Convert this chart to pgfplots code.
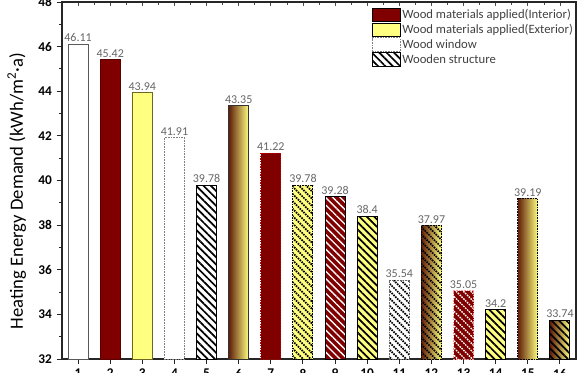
\documentclass[border=0pt]{standalone}
\usepackage{pgfplots}
\pgfplotsset{compat=1.18}
\usepackage{fontspec}
\setmainfont{Carlito}
\usetikzlibrary{patterns.meta}
\definecolor{wred}{RGB}{128,0,0}
\definecolor{wyel}{RGB}{255,255,128}
\definecolor{gbrown}{RGB}{95,30,10}
\definecolor{gmid}{RGB}{205,150,70}
\tikzset{
  hatchk/.style={postaction={pattern={Lines[angle=-45,distance=3.9pt,line width=1.3pt]},pattern color=black}},
  hatchw/.style={postaction={pattern={Lines[angle=-45,distance=3.9pt,line width=1.0pt]},pattern color=white}},
  grad/.style={left color=gbrown,middle color=gmid,right color=wyel},
  gradhatch/.style={preaction={left color=gbrown,middle color=gmid,right color=wyel},
     pattern={Lines[angle=-45,distance=3.9pt,line width=1.3pt]},pattern color=black},
  win/.style={dash pattern=on 1.2pt off 0.8pt},
}
\begin{document}
\begin{tikzpicture}
\begin{axis}[
  scale only axis, width=385.5pt, height=267.75pt,
  xmin=0.5, xmax=16.5, ymin=32, ymax=48,
  ybar, bar width=15pt, bar shift=0pt,
  xtick={1,...,16}, ytick={32,34,...,48}, minor y tick num=1,
  xtick pos=bottom, ytick pos=left, tick align=outside,
  major tick length=4pt, minor tick length=2.5pt,
  axis line style={line width=0.9pt, black!85},
  every tick/.style={black!85, line width=0.7pt},
  /pgf/number format/assume math mode=true,
  tick label style={font=\fontsize{10}{12}\selectfont\bfseries},
  ylabel={Heating Energy Demand (kWh/m\textsuperscript{2}·a)},
  ylabel style={font=\fontsize{14}{16}\selectfont, at={(axis description cs:-0.088,0.47)}, anchor=center},
  nodes near coords,
  every node near coord/.append style={font=\fontsize{9}{10}\selectfont, color=black!60, inner sep=1.5pt},
  legend image code/.code={\draw[#1] (0pt,-5.2pt) rectangle (21pt,5.2pt);},
  legend style={at={(rel axis cs:0.603,0.985)}, anchor=north west, draw=none, fill=none,
     font=\fontsize{9.5}{10}\selectfont, row sep=0.2pt, inner sep=0pt,
     nodes={inner sep=1pt, text=black!75}},
  legend cell align=left,
]
\addplot[forget plot, fill=white, draw=gray!70!black, line width=0.7pt] coordinates {(1,46.11)};
\addplot[forget plot, fill=wred, draw=wred!70!black] coordinates {(2,45.42)};
\addplot[forget plot, fill=wyel, draw=olive!70!black, line width=0.7pt] coordinates {(3,43.94)};
\addplot[forget plot, fill=white, draw=gray, win, line width=0.7pt] coordinates {(4,41.91)};
\addplot[forget plot, fill=white, draw=black, hatchk, line width=0.7pt] coordinates {(5,39.78)};
\addplot[forget plot, grad, draw=black!80, line width=0.7pt] coordinates {(6,43.35)};
\addplot[forget plot, fill=wred, draw=red!70!black, win, line width=0.7pt] coordinates {(7,41.22)};
\addplot[forget plot, fill=wyel, hatchk, draw=black, win, line width=0.7pt] coordinates {(8,39.78)};
\addplot[forget plot, fill=wred, hatchw, draw=black, line width=0.7pt] coordinates {(9,39.28)};
\addplot[forget plot, fill=wyel, hatchk, draw=black, line width=0.7pt] coordinates {(10,38.4)};
\addplot[forget plot, fill=white, hatchk, draw=gray!80!black, win, line width=0.7pt] coordinates {(11,35.54)};
\addplot[forget plot, gradhatch, draw=black, win, line width=0.7pt] coordinates {(12,37.97)};
\addplot[forget plot, fill=wred, hatchw, draw=red!40, win, line width=0.7pt] coordinates {(13,35.05)};
\addplot[forget plot, fill=wyel, hatchk, draw=black, line width=0.7pt] coordinates {(14,34.2)};
\addplot[forget plot, grad, draw=black, win, line width=0.7pt] coordinates {(15,39.19)};
\addplot[forget plot, gradhatch, draw=black, line width=0.7pt] coordinates {(16,33.74)};
\addlegendimage{fill=wred, draw=black, line width=0.6pt}
\addlegendentry{Wood materials applied(Interior)}
\addlegendimage{fill=wyel, draw=black, line width=0.6pt}
\addlegendentry{Wood materials applied(Exterior)}
\addlegendimage{fill=white, draw=gray, win, line width=0.6pt}
\addlegendentry{Wood window}
\addlegendimage{fill=white, draw=black, hatchk, line width=0.6pt}
\addlegendentry{Wooden structure}
\end{axis}
\begin{axis}[
  scale only axis, width=385.5pt, height=267.75pt,
  xmin=0.5, xmax=16.5, ymin=32, ymax=48,
  axis x line*=top, axis y line=none,
  xtick={1,...,16}, minor x tick num=1, xticklabels={},
  tick align=inside, major tick length=3pt, minor tick length=2pt,
  axis line style={line width=0.9pt, black!85},
  every tick/.style={black!70, line width=0.5pt},
]
\end{axis}
\pgfresetboundingbox
\path ([xshift=-46.5pt,yshift=-9.75pt]current axis.south west) rectangle ([xshift=3pt,yshift=1.5pt]current axis.north east);
\end{tikzpicture}
\end{document}
